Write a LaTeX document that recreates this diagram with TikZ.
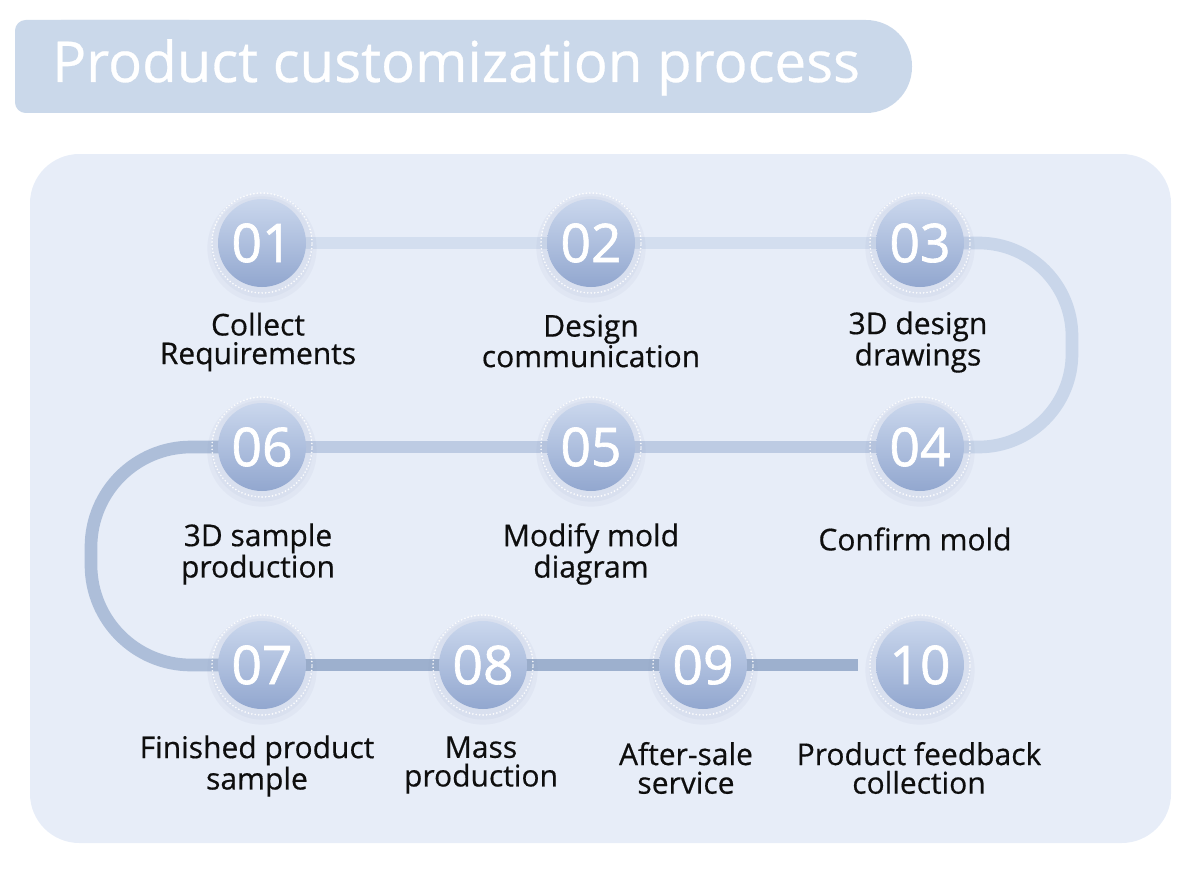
\documentclass[tikz,border=0pt]{standalone}
\usepackage{fontspec}
\setmainfont{Open Sans}
\newfontfamily\numfont[FakeBold=1.2]{Open Sans}
\newfontfamily\capfont[FakeBold=0.5]{Open Sans}
\usetikzlibrary{calc}
\definecolor{PanelBlue}{HTML}{E7EDF8}
\definecolor{BannerBlue}{HTML}{CAD8EA}
\definecolor{TrackTop}{HTML}{D3DEEF}
\definecolor{TrackMidA}{HTML}{C9D6EA}
\definecolor{TrackMidB}{HTML}{BDCBE3}
\definecolor{TrackMidC}{HTML}{ADBED9}
\definecolor{TrackLow}{HTML}{9DB0CE}
\definecolor{DiscTop}{HTML}{CAD7ED}
\definecolor{DiscLow}{HTML}{92A7CF}
\definecolor{GlowBlue}{HTML}{8597BD}
\definecolor{LabelInk}{HTML}{0E0E0E}
\pgfdeclarelayer{panel}
\pgfdeclarelayer{track}
\pgfsetlayers{panel,track,main}

\begin{document}
\begin{tikzpicture}[
  x=0.75pt, y=-0.75pt,
  disc/.style={circle, minimum size=66pt, inner sep=0pt, top color=DiscTop, bottom color=DiscLow, text=white, font=\numfont\fontsize{40}{40}\selectfont},
  ring/.style={white, line width=1.4pt, line cap=round, dash pattern=on 0pt off 2.6pt, opacity=0.9},
  glow/.style={fill=GlowBlue, opacity=0.07},
  lbl/.style={align=center, inner sep=0pt, text=LabelInk, font=\capfont\fontsize{22.5}{21.5}\selectfont},
  track/.style={line width=9.5pt, line cap=butt},
  title/.style={text=white, inner sep=0pt, font=\capfont\fontsize{42.3}{44}\selectfont}
]
  \useasboundingbox (0,0) rectangle (1200,874);

  % panel and banner
  \begin{pgfonlayer}{panel}
    \fill[PanelBlue, rounded corners=37pt] (30,154) rectangle (1171,843);
    \fill[BannerBlue, rounded corners=34.5pt] (15,20) rectangle (912,113);
    \fill[BannerBlue, rounded corners=8pt] (15,20) rectangle (200,113);
  \end{pgfonlayer}
  \node[title, anchor=base west] (head) at (52,82) {Product customization process};

  % steps
  \foreach \n/\x/\y in {01/262/243, 02/591/243, 03/920/243, 04/920/447, 05/591/447,
                        06/262/447, 07/262/665, 08/483/665, 09/703/665, 10/920/665} {
    \fill[glow] (\x,\y+5) circle (41pt);
    \fill[glow] (\x,\y+4) circle (38pt);
    \draw[ring] (\x,\y) circle (37.5pt);
    \node[disc] (c\n) at (\x,\y) {\n};
  }

  % track behind the steps
  \begin{pgfonlayer}{track}
    \coordinate (rgt) at (1072,0);
    \coordinate (lft) at (91,0);
    \coordinate (tend) at (858,665);
    \draw[track, TrackTop] (c01.center) -- (c03.center);
    \draw[track, TrackMidA, rounded corners=70pt] (c03.center) -- (c03 -| rgt) -- (c04 -| rgt) -- (c04.center);
    \draw[track, TrackMidB] (c04.center) -- (c06.center);
    \draw[track, TrackMidC, rounded corners=75pt] (c06.center) -- (c06 -| lft) -- (c07 -| lft) -- (c07.center);
    \draw[track, TrackLow] (c07.center) -- (tend);
  \end{pgfonlayer}

  % captions
  \node[lbl] (t01) at (258,342) {Collect\\Requirements};
  \node[lbl] (t02) at (591,341) {Design\\communication};
  \node[lbl] (t03) at (918,342) {3D design\\drawings};
  \node[lbl] (t04) at (915,539) {Confirm mold};
  \node[lbl] (t05) at (591,554) {Modify mold\\diagram};
  \node[lbl] (t06) at (258,554) {3D sample\\production};
  \node[lbl] (t07) at (257,766) {Finished product\\sample};
  \node[lbl] (t08) at (481,765) {Mass\\production};
  \node[lbl] (t09) at (686,768) {After-sale\\service};
  \node[lbl] (t10) at (919,768) {Product feedback\\collection};
\end{tikzpicture}
\end{document}
